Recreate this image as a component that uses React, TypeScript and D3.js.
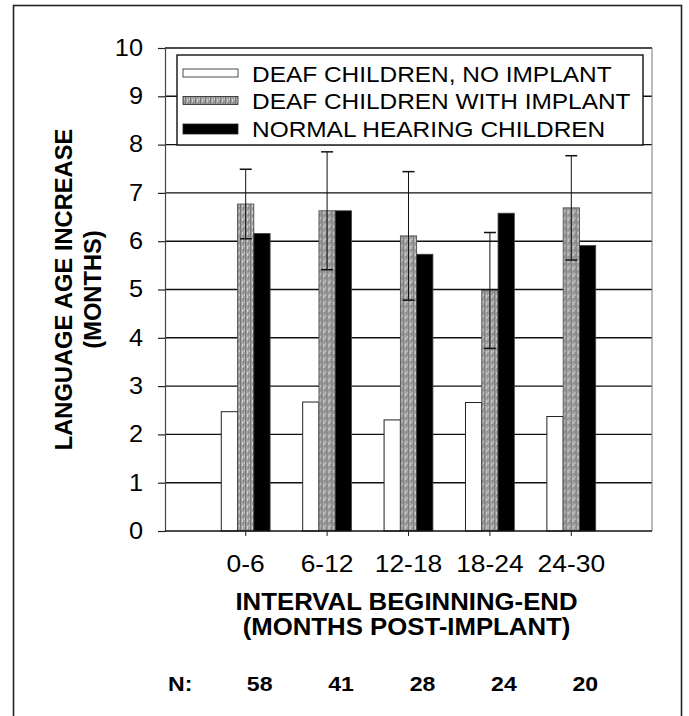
import React from 'react'
import * as d3 from 'd3'

// values
const intervals = ['0-6', '6-12', '12-18', '18-24', '24-30']
const seriesNames = ['DEAF CHILDREN, NO IMPLANT', 'DEAF CHILDREN WITH IMPLANT', 'NORMAL HEARING CHILDREN']
const noImplant = [2.47, 2.67, 2.3, 2.66, 2.37]
const withImplant = [6.77, 6.63, 6.11, 4.98, 6.69]
const implantErr = [0.72, 1.22, 1.33, 1.2, 1.08]
const normalHearing = [6.16, 6.63, 5.73, 6.58, 5.91]
const nCounts = [58, 41, 28, 24, 20]
const yTicks = [0, 1, 2, 3, 4, 5, 6, 7, 8, 9, 10]

const W = 689
const H = 716
const PLOT = { left: 165, right: 652, top: 48, bottom: 531 }
const FONT = 'Arial, "Liberation Sans", Helvetica, sans-serif'

// the scanned type is wider than Arial, so stretch each label along its baseline
const widen = (sel: any, k: number) => sel.each(function (this: SVGTextElement) {
  const len = this.getComputedTextLength()
  this.setAttribute('textLength', String(len * k))
  this.setAttribute('lengthAdjust', 'spacingAndGlyphs')
})

export default function App() {
  const svgRef = React.useRef<SVGSVGElement>(null)

  React.useEffect(() => {
    const svg = d3.select(svgRef.current!)
    svg.selectAll('*').remove()

    // stippled gray fill used for the implant series
    const defs = svg.append('defs')
    const pat = defs.append('pattern')
      .attr('id', 'stipple').attr('patternUnits', 'userSpaceOnUse')
      .attr('width', 5).attr('height', 7)
    pat.append('rect').attr('width', 5).attr('height', 7).attr('fill', '#a0a0a0')
    pat.append('rect').attr('x', 0).attr('width', 1).attr('height', 7).attr('fill', '#767676')
    pat.append('rect').attr('x', 2).attr('y', 1).attr('width', 1).attr('height', 3).attr('fill', '#d4d4d4')
    pat.append('rect').attr('x', 3).attr('y', 4).attr('width', 1).attr('height', 2).attr('fill', '#848484')
    pat.append('rect').attr('x', 4).attr('y', 0).attr('width', 1).attr('height', 2).attr('fill', '#c8c8c8')

    const fills = ['#ffffff', 'url(#stipple)', '#000000']
    const series = [noImplant, withImplant, normalHearing]

    // outer frame
    svg.append('rect')
      .attr('x', 13.5).attr('y', 5.5).attr('width', 668).attr('height', 720)
      .attr('fill', '#fff').attr('stroke', '#222').attr('stroke-width', 1.6)

    const y = d3.scaleLinear().domain([0, 10]).range([PLOT.bottom, PLOT.top])
    const x = d3.scaleBand().domain(intervals).range([PLOT.left + 40, PLOT.right - 40])
    const xs = d3.scaleBand<number>().domain([0, 1, 2]).range([0, x.bandwidth()]).paddingOuter(1)

    // gridlines
    svg.append('g').selectAll('line').data(yTicks.slice(1)).join('line')
      .attr('x1', PLOT.left).attr('x2', PLOT.right)
      .attr('y1', d => y(d)).attr('y2', d => y(d))
      .attr('stroke', '#111').attr('stroke-width', 1.4)

    // right border of plot area
    svg.append('line')
      .attr('x1', PLOT.right).attr('x2', PLOT.right).attr('y1', PLOT.top).attr('y2', PLOT.bottom)
      .attr('stroke', '#777').attr('stroke-width', 1)

    // bars
    const groups = svg.append('g').selectAll('g').data(intervals).join('g')
      .attr('transform', d => `translate(${x(d)},0)`)
    series.forEach((vals, si) => {
      groups.append('rect')
        .attr('x', xs(si)!)
        .attr('width', xs.bandwidth())
        .attr('y', (_, i) => y(vals[i]))
        .attr('height', (_, i) => y(0) - y(vals[i]))
        .attr('fill', fills[si])
        .attr('stroke', si === 0 ? '#222' : '#444')
        .attr('stroke-width', si === 0 ? 1 : 0.8)
    })

    // error bars on the implant series
    const cx = xs(1)! + xs.bandwidth() / 2
    groups.append('line')
      .attr('x1', cx).attr('x2', cx)
      .attr('y1', (_, i) => y(withImplant[i] + implantErr[i]))
      .attr('y2', (_, i) => y(withImplant[i] - implantErr[i]))
      .attr('stroke', '#111').attr('stroke-width', 1)
    ;[1, -1].forEach(sgn => {
      groups.append('line')
        .attr('x1', cx - 6).attr('x2', cx + 6)
        .attr('y1', (_, i) => y(withImplant[i] + sgn * implantErr[i]))
        .attr('y2', (_, i) => y(withImplant[i] + sgn * implantErr[i]))
        .attr('stroke', '#111').attr('stroke-width', 1.5)
    })

    // y axis
    const yAxis = svg.append('g').attr('transform', `translate(${PLOT.left},0)`)
      .call(d3.axisLeft(y).tickValues(yTicks).tickSize(7).tickPadding(15).tickFormat(d3.format('d')))
    yAxis.select('.domain').attr('stroke', '#444').attr('stroke-width', 1.2)
    yAxis.selectAll('.tick line').attr('stroke', '#222').attr('stroke-width', 1.2)
    yAxis.selectAll('.tick text')
      .attr('font-family', FONT).attr('font-size', 23).attr('fill', '#000')
      .call(widen, 1.1)

    // x axis
    svg.append('line')
      .attr('x1', PLOT.left).attr('x2', PLOT.right).attr('y1', PLOT.bottom).attr('y2', PLOT.bottom)
      .attr('stroke', '#111').attr('stroke-width', 1.4)
    const xAxis = svg.append('g').attr('transform', `translate(0,${PLOT.bottom})`)
      .call(d3.axisBottom(x).tickSize(5))
    xAxis.select('.domain').remove()
    xAxis.selectAll('.tick line').attr('stroke', '#222')
    xAxis.selectAll('.tick text')
      .attr('y', 41).attr('dy', null)
      .attr('font-family', FONT).attr('font-size', 24).attr('fill', '#000')
      .call(widen, 1.1)

    // legend
    const leg = svg.append('g')
    leg.append('rect')
      .attr('x', 177).attr('y', 55).attr('width', 466).attr('height', 90)
      .attr('fill', '#fff').attr('stroke', '#111').attr('stroke-width', 1.4)
    seriesNames.forEach((name, i) => {
      const ry = 73.5 + i * 27.5
      leg.append('rect')
        .attr('x', 183).attr('y', ry - 4.5).attr('width', 55).attr('height', i === 2 ? 10 : 8)
        .attr('fill', fills[i]).attr('stroke', '#222').attr('stroke-width', 0.8)
      leg.append('text')
        .attr('x', 252).attr('y', ry + 8)
        .attr('font-family', FONT).attr('font-size', 22).attr('fill', '#000')
        .text(name)
        .call(widen, 1.11)
    })

    // axis titles
    const yTitle = svg.append('g')
      .attr('transform', `translate(0,${(PLOT.top + PLOT.bottom) / 2}) rotate(-90)`)
    ;[['LANGUAGE AGE INCREASE', 72], ['(MONTHS)', 101]].forEach(([t, bx]) => {
      yTitle.append('text')
        .attr('x', 0).attr('y', bx as number)
        .attr('text-anchor', 'middle')
        .attr('font-family', FONT).attr('font-size', 23).attr('font-weight', 'bold')
        .text(t as string)
        .call(widen, 1.03)
    })

    const xMid = (PLOT.left + PLOT.right) / 2 - 2
    ;[['INTERVAL BEGINNING-END', 610], ['(MONTHS POST-IMPLANT)', 635]].forEach(([t, by]) => {
      svg.append('text')
        .attr('x', xMid).attr('y', by as number)
        .attr('text-anchor', 'middle')
        .attr('font-family', FONT).attr('font-size', 23).attr('font-weight', 'bold')
        .text(t as string)
        .call(widen, 1.12)
    })

    // sample sizes
    svg.append('text')
      .attr('x', 168).attr('y', 691)
      .attr('font-family', FONT).attr('font-size', 21).attr('font-weight', 'bold')
      .text('N:')
      .call(widen, 1.1)
    svg.append('g').selectAll('text').data(nCounts).join('text')
      .attr('x', (_, i) => x(intervals[i])! + x.bandwidth() / 2 + 14)
      .attr('y', 691)
      .attr('text-anchor', 'middle')
      .attr('font-family', FONT).attr('font-size', 21).attr('font-weight', 'bold')
      .text(d => d)
      .call(widen, 1.1)
  }, [])

  return (
    <svg ref={svgRef} width={W} height={H}
      style={{ position: 'absolute', left: 0, top: 0, background: '#fff' }} />
  )
}
